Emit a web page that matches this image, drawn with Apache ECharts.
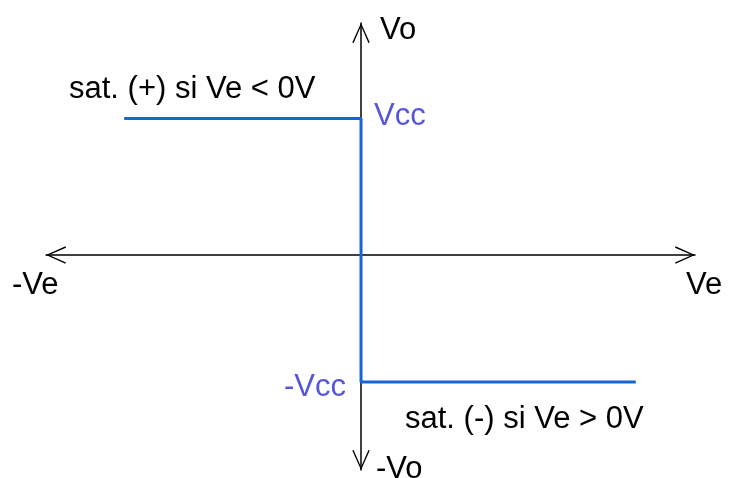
<!DOCTYPE html>
<html>
<head>
<meta charset="utf-8">
<script src="https://cdn.jsdelivr.net/npm/echarts@6/dist/echarts.min.js"></script>
<style>
  html, body { margin: 0; padding: 0; background: #fff; }
  #chart { width: 732px; height: 478px; }
</style>
</head>
<body>
<div id="chart"></div>
<script>
// transfer characteristic of a comparator (Vcc = 1)
var veValues = [-1, 0, 0, 1.16];
var voValues = [1, 1, -0.93, -0.93];
var xRange = [-1.33, 1.41];
var yRange = [-1.575, 1.70];

var textFont = '31px "Liberation Sans", Arial, sans-serif';
var textColor = '#000';
var vccColor = '#5656dc';
var lineColor = '#1565d8';

// open arrow head, pointing up in its own frame
var arrowPath = 'path://M0,20 L9,0 L18,20 L16.6,20.6 L9,3.2 L1.4,20.6 Z';

function label(text, x, baseline, color) {
    return {
        type: 'text',
        x: x,
        y: baseline - 25,
        silent: true,
        style: {
            text: text,
            font: textFont,
            fill: color || textColor,
            verticalAlign: 'top'
        }
    };
}

var satData = [];
for (var i = 0; i < veValues.length; i++) {
    satData.push([veValues[i], voValues[i]]);
}

function axisOpt(range) {
    return {
        type: 'value',
        min: range[0],
        max: range[1],
        axisLine: {
            show: true,
            onZero: true,
            symbol: [arrowPath, arrowPath],
            symbolSize: [18, 20],
            symbolOffset: [10, -10],
            lineStyle: { color: '#000', width: 1.5 }
        },
        axisTick: { show: false },
        axisLabel: { show: false },
        splitLine: { show: false }
    };
}

var chart = echarts.init(document.getElementById('chart'), null, { renderer: 'canvas' });
var option = {
    animation: false,
    backgroundColor: '#fff',
    grid: { left: 46, right: 37, top: 23, bottom: 8 },
    xAxis: axisOpt(xRange),
    yAxis: axisOpt(yRange),
    series: [{
        name: 'sat',
        type: 'line',
        data: satData,
        symbol: 'none',
        z: 5,
        lineStyle: { color: lineColor, width: 3 }
    }],
    graphic: [
        label('Vo', 380, 40),
        label('sat. (+) si Ve < 0V', 69, 99),
        label('Vcc', 374, 126, vccColor),
        label('-Ve', 12, 295),
        label('Ve', 686, 295),
        label('-Vcc', 284, 397, vccColor),
        label('sat. (-) si Ve > 0V', 405, 429),
        label('-Vo', 376, 479)
    ]
};
chart.setOption(option);
</script>
</body>
</html>
